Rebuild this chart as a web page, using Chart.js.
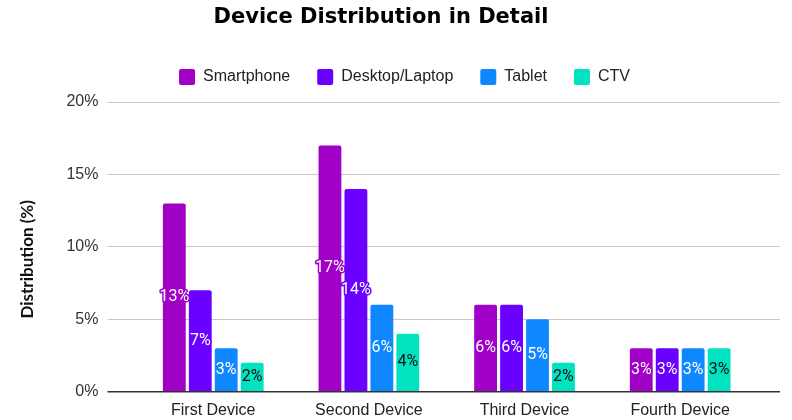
<!DOCTYPE html>
<html><head><meta charset="utf-8">
<script src="https://cdn.jsdelivr.net/npm/chart.js@4/dist/chart.umd.min.js"></script>
<style>html,body{margin:0;padding:0;background:#fff}#wrap{width:792px;height:420px;position:relative}</style>
</head><body><div id="wrap"><canvas id="c"></canvas></div>
<script>
const chartTitle = 'Device Distribution in Detail';
const categories = ['First Device', 'Second Device', 'Third Device', 'Fourth Device'];
const seriesNames = ['Smartphone', 'Desktop/Laptop', 'Tablet', 'CTV'];
const smartphone = [13, 17, 6, 3];
const desktop = [7, 14, 6, 3];
const tablet = [3, 6, 5, 3];
const ctv = [2, 4, 2, 3];
const seriesColors = ['#a100c6', '#6a00ff', '#0f88ff', '#00e2c0'];
const labelColors = ['#ffffff', '#ffffff', '#ffffff', '#111111'];
const yAxisTitle = 'Distribution (%)';

const seriesValues = [smartphone, desktop, tablet, ctv];
const datasets = seriesNames.map((n, i) => ({
  label: n, data: seriesValues[i], backgroundColor: seriesColors[i], borderWidth: 0,
  borderRadius: {topLeft: 2, topRight: 2, bottomLeft: 0, bottomRight: 0}, borderSkipped: 'start',
  barPercentage: 0.88, categoryPercentage: 0.667
}));

const titlePlugin = {
  id: 'customTitle',
  afterLayout(chart) {
    const lg = chart.legend;
    if (lg) { lg.left += 8; lg.right += 8; lg.top -= 7; lg.bottom -= 7; }
  },
  afterDraw(chart) {
    const c = chart.ctx; c.save();
    c.font = 'bold 21px "DejaVu Sans"'; c.fillStyle = '#000'; c.textAlign = 'center'; c.textBaseline = 'middle';
    c.fillText(chartTitle, 381, 18); c.restore();
  }
};
const valueLabels = {
  id: 'valueLabels',
  afterDatasetsDraw(chart) {
    const c = chart.ctx; c.save();
    c.font = '16px Roboto'; c.textAlign = 'center'; c.textBaseline = 'middle'; c.lineJoin = 'round';
    chart.data.datasets.forEach((ds, i) => {
      chart.getDatasetMeta(i).data.forEach((bar, j) => {
        const t = ds.data[j] + '%';
        const y = (bar.y + bar.base) / 2;
        c.lineWidth = 3; c.strokeStyle = seriesColors[i]; c.strokeText(t, bar.x, y);
        c.fillStyle = labelColors[i]; c.fillText(t, bar.x, y);
      });
    });
    c.restore();
  }
};

new Chart(document.getElementById('c'), {
  type: 'bar',
  data: { labels: categories, datasets },
  plugins: [titlePlugin, valueLabels],
  options: {
    responsive: true, maintainAspectRatio: false, animation: false,
    layout: { padding: { top: 49, left: 13, right: 12, bottom: -9 } },
    plugins: {
      title: { display: false },
      tooltip: { enabled: false },
      legend: {
        position: 'top',
        labels: { boxWidth: 16, boxHeight: 16, padding: 27, color: '#222', useBorderRadius: true, borderRadius: 2,
          font: { family: 'Liberation Sans', size: 16 } }
      }
    },
    scales: {
      x: {
        grid: { display: false, drawTicks: false }, border: { display: false },
        ticks: { color: '#222', padding: 9, font: { family: 'Liberation Sans', size: 16 } }
      },
      y: {
        min: 0, max: 20,
        border: { display: false },
        grid: { color: c => c.tick && c.tick.value === 0 ? '#333' : '#c8c8c8', lineWidth: c => c.tick && c.tick.value === 0 ? 1.5 : 1, tickLength: 28 },
        ticks: { stepSize: 5, padding: 9, color: '#333', callback: v => v + '%', font: { family: 'Liberation Sans', size: 16 } },
        title: { display: true, text: yAxisTitle + '      ', color: '#111', padding: { top: 4, bottom: 20 }, font: { family: 'Lato', weight: 'bold', size: 17 } }
      },
      y2: {
        position: 'right', min: 0, max: 20,
        border: { display: false },
        grid: { drawOnChartArea: false, color: c => c.tick && c.tick.value === 0 ? '#333' : '#c8c8c8', lineWidth: c => c.tick && c.tick.value === 0 ? 1.5 : 1, tickLength: 22 },
        ticks: { display: false, stepSize: 5 }
      }
    }
  }
});
</script></body></html>
